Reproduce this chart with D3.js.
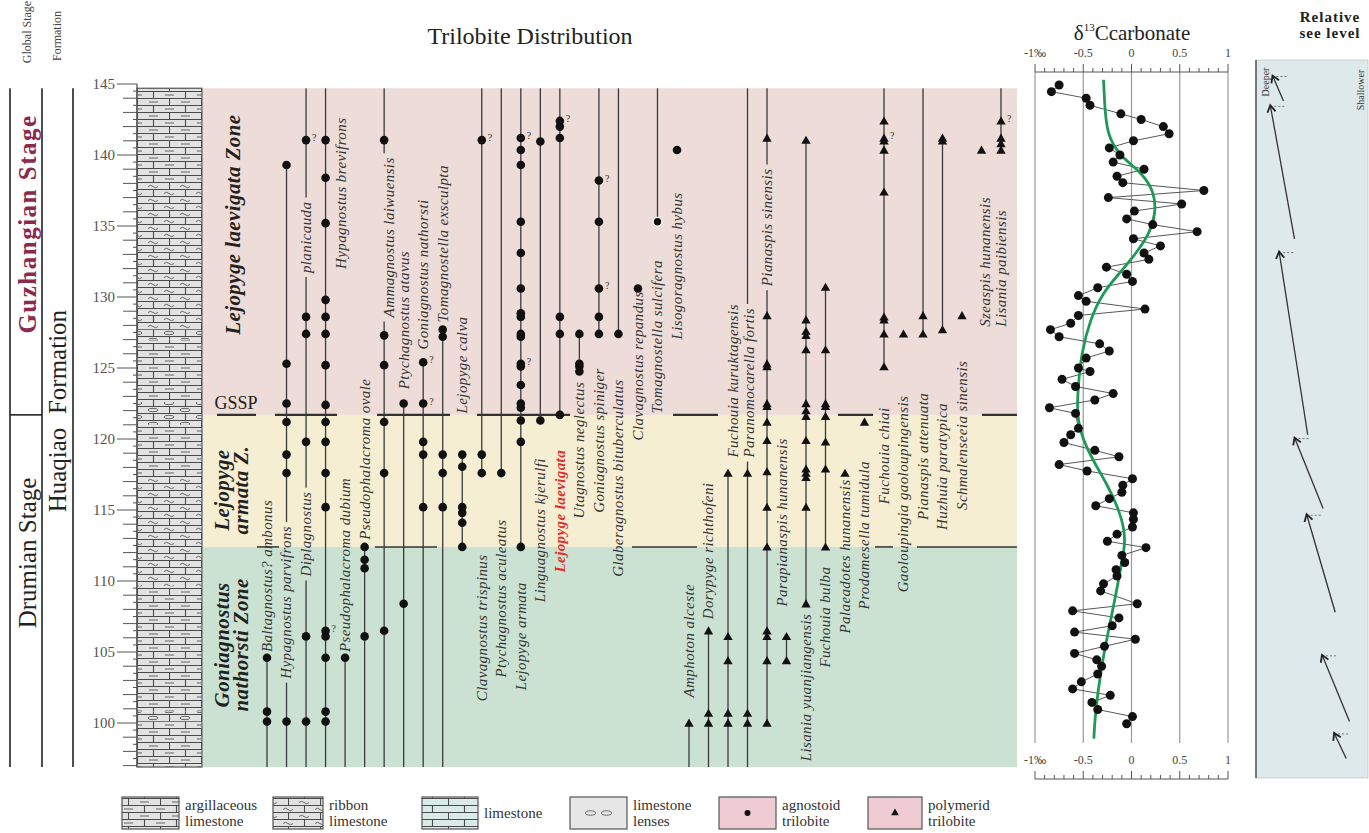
<!DOCTYPE html>
<html>
<head>
<meta charset="utf-8">
<script src="https://cdn.jsdelivr.net/npm/d3@7"></script>
<style>
  body { margin: 0; background: #fff; }
  svg text { font-family: "Liberation Serif", "DejaVu Serif", serif; }
  .taxon { font-size: 15px; font-style: italic; fill: #333; letter-spacing: 0.4px; }
</style>
</head>
<body>
<div id="chart"></div>
<script>
// ---- data ----
var depthTicks = [100, 105, 110, 115, 120, 125, 130, 135, 140, 145];
var secTop = 144.7, secBase = 96.9, gssp = 121.7, armataBase = 112.4;

var zones = [
  { lines: ["Lejopyge laevigata Zone"], top: secTop, base: gssp, at: 135.1, color: "#eddcd7" },
  { lines: ["Lejopyge", "armata Z."], top: gssp, base: armataBase, at: 116.4, color: "#f6eed3" },
  { lines: ["Goniagnostus", "nathorsti Zone"], top: armataBase, base: secBase, at: 105.5, color: "#cbe2d3" }
];

var lithology = [
  { top: 144.7, base: 138.1, type: "argillaceous" },
  { top: 138.1, base: 127.7, type: "ribbon" },
  { top: 127.7, base: 127.0, type: "lenses" },
  { top: 127.0, base: 122.6, type: "argillaceous" },
  { top: 122.6, base: 121.0, type: "lenses" },
  { top: 121.0, base: 117.2, type: "argillaceous" },
  { top: 117.2, base: 109.6, type: "ribbon" },
  { top: 109.6, base: 100.8, type: "argillaceous" },
  { top: 100.8, base: 100.1, type: "lenses" },
  { top: 100.1, base: 96.9, type: "argillaceous" }
];

// agnostoid trilobites (dots)
var agnostoids = [
  { name: "Baltagnostus? ambonus", range: [96.9, 104.6], occ: [100.1, 100.8, 104.6] },
  { name: "Hypagnostus parvifrons", range: [96.9, 139.3], occ: [100.1, 117.6, 118.9, 121.2, 122.5, 125.3, 139.3] },
  { name: "Diplagnostus planicauda", range: [96.9, 144.7], occ: [100.1, 106.1, 119.8, 127.4, 128.6, 141.05], q: [141.05] },
  { name: "Hypagnostus brevifrons", range: [96.9, 144.7], occ: [100.1, 100.8, 104.6, 106.1, 106.5, 115.2, 117.6, 119.8, 121.2, 122.4, 125.2, 127.4, 128.6, 129.8, 135.2, 138.4, 141.05], q: [106.5] },
  { name: "Pseudophalacroma dubium", range: [96.9, 104.6], occ: [104.6] },
  { name: "Pseudophalacroma ovale", range: [96.9, 112.4], occ: [106.1, 110.9, 111.5, 112.4] },
  { name: "Ammagnostus laiwuensis", range: [96.9, 144.7], occ: [106.5, 117.6, 121.2, 125.2, 127.3, 141.05] },
  { name: "Ptychagnostus atavus", range: [96.9, 122.5], occ: [108.4, 122.5] },
  { name: "Goniagnostus nathorsti", range: [96.9, 125.4], occ: [115.2, 118.9, 119.8, 122.5, 125.4], q: [122.5, 125.4] },
  { name: "Tomagnostella exsculpta", range: [96.9, 127.7], occ: [115.2, 117.6, 118.9, 127.2, 127.7] },
  { name: "Lejopyge calva", range: [112.4, 118.9], occ: [112.4, 114.1, 114.8, 115.2, 118.05, 118.9] },
  { name: "Clavagnostus trispinus", range: [117.6, 144.7], occ: [117.6, 118.9, 141.05], q: [141.05] },
  { name: "Ptychagnostus aculeatus", range: [117.6, 144.7], occ: [117.6] },
  { name: "Lejopyge armata", range: [112.4, 144.7], occ: [112.4, 119.8, 121.3, 122.2, 122.5, 123.8, 125.1, 125.3, 127.2, 127.4, 128.6, 128.85, 130.6, 133.1, 135.3, 139.3, 140.35, 141.2], q: [141.2, 125.3] },
  { name: "Linguagnostus kjerulfi", range: [121.3, 144.7], occ: [121.3, 140.95] },
  { name: "Lejopyge laevigata", range: [121.7, 144.7], occ: [121.7, 127.4, 128.6, 141.2, 142.0, 142.4], q: [142.4], red: true },
  { name: "Utagnostus neglectus", range: [124.75, 127.4], occ: [124.75, 125.1, 125.3, 127.4] },
  { name: "Goniagnostus spiniger", range: [127.4, 144.7], occ: [127.4, 128.6, 130.6, 135.3, 138.2], q: [130.6, 138.2] },
  { name: "Glaberagnostus bituberculatus", range: [127.4, 144.7], occ: [127.4] },
  { name: "Clavagnostus repandus", range: null, occ: [130.6] },
  { name: "Tomagnostella sulcifera", range: [135.3, 144.7], occ: [135.3], hollow: true },
  { name: "Lisogoragnostus hybus", range: null, occ: [140.35] }
];

// polymerid trilobites (triangles)
var polymerids = [
  { name: "Amphoton alceste", range: [96.9, 100.0], occ: [100.0] },
  { name: "Dorypyge richthofeni", range: [96.9, 106.5], occ: [100.0, 100.7, 106.5] },
  { name: "Fuchouia kuruktagensis", range: [96.9, 117.6], occ: [100.0, 100.7, 104.4, 106.1, 117.6] },
  { name: "Paranomocarella fortis", range: [96.9, 144.7], occ: [100.0, 100.7, 117.6] },
  { name: "Pianaspis sinensis", range: [100.0, 144.7], occ: [100.0, 104.4, 106.1, 106.5, 112.4, 115.2, 117.7, 119.9, 121.2, 122.3, 122.5, 125.1, 125.3, 128.7, 141.2] },
  { name: "Parapianaspis hunanensis", range: [104.4, 106.1], occ: [104.4, 106.1] },
  { name: "Lisania yuanjiangensis", range: [108.4, 141.05], occ: [108.4, 115.2, 117.3, 117.6, 117.9, 119.9, 121.6, 122.0, 122.5, 126.3, 127.3, 127.6, 128.4, 141.05] },
  { name: "Fuchouia bulba", range: [112.4, 130.7], occ: [112.4, 117.9, 119.8, 121.6, 122.3, 122.5, 126.3, 130.7] },
  { name: "Palaeadotes hunanensis", range: null, occ: [117.6] },
  { name: "Prodamesella tumidula", range: null, occ: [121.2] },
  { name: "Fuchouia chiai", range: [125.1, 144.7], occ: [125.1, 127.4, 128.4, 128.6, 137.4, 140.35, 141.0, 141.2, 142.4], q: [141.2] },
  { name: "Gaoloupingia gaoloupingensis", range: null, occ: [127.4] },
  { name: "Pianaspis attenuata", range: [127.4, 144.7], occ: [127.4, 128.7] },
  { name: "Huzhuia paratypica", range: [127.7, 141.2], occ: [127.7, 141.0, 141.2] },
  { name: "Schmalenseeia sinensis", range: null, occ: [128.7] },
  { name: "Szeaspis hunanensis", range: null, occ: [140.35] },
  { name: "Lisania paibiensis", range: [140.35, 144.7], occ: [140.35, 140.8, 141.2, 142.4], q: [142.4] }
];

// where each taxon name is written: centred on "at", or starting at "from" (depth), sideways shift dx
var labelLayout = {
  "Baltagnostus? ambonus": [{ from: 105.0 }],
  "Hypagnostus parvifrons": [{ at: 108.5 }],
  "Diplagnostus planicauda": [{ text: "Diplagnostus", at: 113.3 }, { text: "planicauda", at: 134.2 }],
  "Hypagnostus brevifrons": [{ at: 137.3, dx: 15 }],
  "Pseudophalacroma dubium": [{ from: 105.0 }],
  "Pseudophalacroma ovale": [{ from: 112.9 }],
  "Ammagnostus laiwuensis": [{ at: 134.2, dx: 5 }],
  "Ptychagnostus atavus": [{ from: 123.5 }],
  "Goniagnostus nathorsti": [{ from: 126.3 }],
  "Tomagnostella exsculpta": [{ from: 128.2 }],
  "Lejopyge calva": [{ from: 121.8 }],
  "Clavagnostus trispinus": [{ at: 106.7 }],
  "Ptychagnostus aculeatus": [{ from: 103.2 }],
  "Lejopyge armata": [{ from: 102.3 }],
  "Linguagnostus kjerulfi": [{ from: 108.5 }],
  "Lejopyge laevigata": [{ from: 110.6 }],
  "Utagnostus neglectus": [{ from: 114.4 }],
  "Goniagnostus spiniger": [{ from: 114.8 }],
  "Glaberagnostus bituberculatus": [{ from: 110.3 }],
  "Clavagnostus repandus": [{ from: 119.9 }],
  "Tomagnostella sulcifera": [{ from: 121.8 }],
  "Lisogoragnostus hybus": [{ from: 127.0 }],
  "Amphoton alceste": [{ from: 101.8 }],
  "Dorypyge richthofeni": [{ from: 107.3 }],
  "Fuchouia kuruktagensis": [{ from: 118.7, dx: 5 }],
  "Paranomocarella fortis": [{ from: 118.7, dx: 2 }],
  "Pianaspis sinensis": [{ at: 134.9 }],
  "Parapianaspis hunanensis": [{ from: 108.2, dx: -4 }],
  "Lisania yuanjiangensis": [{ from: 97.3 }],
  "Fuchouia bulba": [{ from: 103.9 }],
  "Palaeadotes hunanensis": [{ from: 106.3 }],
  "Prodamesella tumidula": [{ from: 108.0 }],
  "Fuchouia chiai": [{ from: 115.4 }],
  "Gaoloupingia gaoloupingensis": [{ from: 109.2 }],
  "Pianaspis attenuata": [{ from: 114.3 }],
  "Huzhuia paratypica": [{ from: 113.6 }],
  "Schmalenseeia sinensis": [{ from: 115.0 }],
  "Szeaspis hunanensis": [{ from: 127.9, dx: 4 }],
  "Lisania paibiensis": [{ from: 127.9 }]
};

// carbon isotope samples
var c13Depth = [144.93, 144.46, 144.0, 143.5, 142.9, 142.5, 142.0, 141.5, 141.0, 140.5, 140.0, 139.5, 139.0, 138.5, 138.05,
  137.5, 137.0, 136.55, 136.05, 135.5, 135.1, 134.6, 134.1, 133.6, 133.1, 132.65, 132.1, 131.6, 131.1, 130.65, 130.1,
  129.7, 129.15, 128.7, 128.15, 127.7, 127.2, 126.7, 126.2, 125.7, 125.0, 124.75, 124.2, 123.7, 123.2, 122.75, 122.2,
  121.8, 120.75, 120.3, 119.75, 119.2, 118.75, 118.2, 117.75, 117.2, 116.75, 116.25, 115.8, 115.3, 114.8, 114.35, 113.8,
  113.3, 112.8, 112.35, 111.8, 111.3, 110.8, 110.35, 109.8, 109.3, 108.4, 107.9, 107.4, 106.85, 106.4, 105.9, 105.4,
  104.9, 104.45, 104.0, 103.45, 102.9, 102.4, 101.95, 101.45, 100.95, 100.45, 99.95];
var c13Value = [-0.75, -0.83, -0.47, -0.43, -0.11, 0.10, 0.33, 0.39, 0.02, -0.23, -0.12, -0.19, 0.13, -0.15, -0.09,
  0.75, -0.24, 0.52, 0.03, -0.05, 0.22, 0.68, 0.02, 0.30, 0.13, 0.18, -0.26, -0.05, 0.01, -0.35, -0.55,
  -0.47, 0.14, -0.55, -0.63, -0.84, -0.75, -0.33, -0.23, -0.47, -0.55, -0.43, -0.72, -0.58, -0.19, -0.38, -0.85,
  -0.58, -0.55, -0.63, -0.70, -0.38, -0.13, -0.75, -0.46, 0.01, -0.09, -0.10, -0.23, -0.37, 0.02, 0.02, 0.01,
  -0.15, -0.25, 0.15, -0.10, -0.07, -0.16, -0.15, -0.29, -0.32, 0.06, -0.61, -0.13, -0.20, -0.59, 0.04, -0.28,
  -0.59, -0.36, -0.31, -0.35, -0.52, -0.61, -0.22, -0.41, -0.35, 0.01, -0.05];

// smoothed trend
var trendDepth = [145.3, 143.9, 141.5, 139.9, 138.7, 137.3, 135.9, 134.5, 133.1, 131.7, 130.3, 128.4, 126.0, 123.9,
  121.6, 119.9, 118.5, 116.9, 115.2, 113.6, 112.4, 111.0, 109.1, 106.8, 104.4, 102.1, 100.2, 98.9];
var trendValue = [-0.29, -0.28, -0.26, -0.12, 0.12, 0.24, 0.25, 0.19, 0.05, -0.12, -0.30, -0.43, -0.52, -0.55,
  -0.57, -0.50, -0.40, -0.26, -0.14, -0.07, -0.07, -0.11, -0.16, -0.23, -0.30, -0.35, -0.38, -0.39];
var c13Ticks = [-1, -0.5, 0, 0.5, 1];
var c13TickLabels = ["-1‰", "-0.5", "0", "0.5", "1"];

// relative sea level arrows (level: 0 = deeper, 1 = shallower)
var seaLevel = [
  { d0: 97.5, l0: 0.82, d1: 99.3, l1: 0.71 },
  { d0: 100.1, l0: 0.85, d1: 104.8, l1: 0.60 },
  { d0: 107.8, l0: 0.72, d1: 114.7, l1: 0.46 },
  { d0: 115.1, l0: 0.61, d1: 120.1, l1: 0.35 },
  { d0: 120.3, l0: 0.47, d1: 133.2, l1: 0.21 },
  { d0: 134.1, l0: 0.35, d1: 143.5, l1: 0.13 },
  { d0: 143.8, l0: 0.25, d1: 145.6, l1: 0.15 }
];

var legendItems = [
  { kind: "argillaceous", label: ["argillaceous", "limestone"] },
  { kind: "ribbon", label: ["ribbon", "limestone"] },
  { kind: "limestone", label: ["limestone"] },
  { kind: "lenses", label: ["limestone", "lenses"] },
  { kind: "agnostoid", label: ["agnostoid", "trilobite"] },
  { kind: "polymerid", label: ["polymerid", "trilobite"] }
];

// ---- drawing ----
var W = 1369, H = 833;
var svg = d3.select("#chart").append("svg").attr("width", W).attr("height", H);
var defs = svg.append("defs");

var y = d3.scaleLinear().domain([145, 100]).range([84, 723]);
var colX0 = 137, colX1 = 202, bgX0 = 203, bgX1 = 1017;

// lithology patterns
function brickPattern(id, fill, mark, ox) {
  var p = defs.append("pattern").attr("id", id).attr("patternUnits", "userSpaceOnUse")
    .attr("x", ox).attr("y", 0).attr("width", 32).attr("height", 14);
  p.append("rect").attr("width", 32).attr("height", 14).attr("fill", fill);
  p.append("path").attr("d", "M0,0.5H32M0,7.5H32M0.5,0V7.5M16.5,7.5V14")
    .attr("stroke", "#4a4a4a").attr("stroke-width", 1.1).attr("fill", "none");
  var m = p.append("g").attr("stroke", "#666").attr("stroke-width", 1).attr("fill", "none");
  if (mark === "dash") {
    m.append("path").attr("d", "M12,4H21M0,11H5M28,11H32");
  } else if (mark === "tilde") {
    m.append("path").attr("d", "M11,4.5q2.5,-2.5 5,0t5,0M-5,11.5q2.5,-2.5 5,0t5,0M27,11.5q2.5,-2.5 5,0t5,0");
  } else if (mark === "lens") {
    m.append("ellipse").attr("cx", 16).attr("cy", 4).attr("rx", 5).attr("ry", 1.7);
    m.append("ellipse").attr("cx", 0).attr("cy", 11).attr("rx", 5).attr("ry", 1.7);
    m.append("ellipse").attr("cx", 32).attr("cy", 11).attr("rx", 5).attr("ry", 1.7);
  }
}
brickPattern("argillaceous", "#e2e2e2", "dash", colX0);
brickPattern("ribbon", "#e2e2e2", "tilde", colX0);
brickPattern("lenses", "#e2e2e2", "lens", colX0);
brickPattern("limestone", "#d9ebe6", "none", 0);
brickPattern("argillaceousL", "#e2e2e2", "dash", 0);
brickPattern("ribbonL", "#e2e2e2", "tilde", 0);

// zone backgrounds
svg.append("g").selectAll("rect").data(zones).enter().append("rect")
  .attr("x", bgX0).attr("width", bgX1 - bgX0)
  .attr("y", function (d) { return y(d.top); })
  .attr("height", function (d) { return y(d.base) - y(d.top); })
  .attr("fill", function (d) { return d.color; });

// lithology column
svg.append("g").selectAll("rect").data(lithology).enter().append("rect")
  .attr("x", colX0).attr("width", colX1 - colX0)
  .attr("y", function (d) { return y(d.top); })
  .attr("height", function (d) { return y(d.base) - y(d.top); })
  .attr("fill", function (d) { return "url(#" + d.type + ")"; });
svg.append("rect").attr("x", colX0).attr("y", y(secTop)).attr("width", colX1 - colX0)
  .attr("height", y(secBase) - y(secTop)).attr("fill", "none").attr("stroke", "#555").attr("stroke-width", 1.2);

// depth axis
var axisG = svg.append("g").attr("stroke", "#555");
axisG.append("line").attr("x1", colX0).attr("x2", colX0).attr("y1", y(145)).attr("y2", y(secBase)).attr("stroke-width", 1.3);
d3.range(97, 145.01, 0.5).forEach(function (v) {
  var major = Math.abs(v % 5) < 1e-6, whole = Math.abs(v % 1) < 1e-6;
  var len = major ? 20 : (whole ? 14 : 4);
  axisG.append("line").attr("x1", colX0 - len).attr("x2", colX0).attr("y1", y(v)).attr("y2", y(v)).attr("stroke-width", 1);
});
svg.append("g").selectAll("text").data(depthTicks).enter().append("text")
  .attr("x", 115).attr("y", function (d) { return y(d); }).attr("dy", "0.35em")
  .attr("text-anchor", "end").attr("font-size", 15).attr("fill", "#555").text(function (d) { return d; });

// stage / formation columns
var sg = svg.append("g").attr("stroke", "#222").attr("stroke-width", 1.6);
[10, 42, 73].forEach(function (x) {
  sg.append("line").attr("x1", x).attr("x2", x).attr("y1", y(secTop)).attr("y2", y(secBase));
});
sg.append("line").attr("x1", 10).attr("x2", 42).attr("y1", y(gssp)).attr("y2", y(gssp));

function vtext(x, yy, txt, size, opts) {
  var t = svg.append("text").attr("transform", "translate(" + x + "," + yy + ") rotate(-90)")
    .attr("text-anchor", "middle").attr("dy", "0.35em").attr("font-size", size).text(txt);
  opts = opts || {};
  Object.keys(opts).forEach(function (k) { t.attr(k, opts[k]); });
  return t;
}
vtext(27, 32, "Global Stage", 12, { fill: "#444" });
vtext(57, 36, "Formation", 12, { fill: "#444" });
vtext(27, 224, "Guzhangian  Stage", 25, { fill: "#8c2a4b", "font-weight": "bold", "letter-spacing": 1.5 });
vtext(27, 553, "Drumian Stage", 25, { fill: "#222" });
vtext(57, 362, "Formation", 25, { fill: "#222" });
vtext(57, 470, "Huaqiao", 25, { fill: "#222" });

// title
svg.append("text").attr("x", 530).attr("y", 44).attr("text-anchor", "middle")
  .attr("font-size", 24).attr("fill", "#222").text("Trilobite Distribution");

// zone names
zones.forEach(function (z) {
  var n = z.lines.length;
  z.lines.forEach(function (ln, i) {
    var x = n === 1 ? 233 : 222 + i * 19;
    vtext(x, y(z.at), ln, 21, { "font-weight": "bold", "font-style": "italic", fill: "#222", "letter-spacing": 0.4 });
  });
});

// zone boundary marks
var gsspMarks = [[275, 337], [377, 450], [477, 570], [673, 718], [838, 873], [982, 1017]];
var armataMarks = [[257, 279], [375, 437], [632, 697], [875, 893], [917, 1017]];
var bm = svg.append("g").attr("stroke", "#333");
gsspMarks.forEach(function (m) {
  bm.append("line").attr("x1", m[0]).attr("x2", m[1]).attr("y1", y(gssp)).attr("y2", y(gssp)).attr("stroke-width", 2.4);
});
armataMarks.forEach(function (m) {
  bm.append("line").attr("x1", m[0]).attr("x2", m[1]).attr("y1", y(armataBase)).attr("y2", y(armataBase)).attr("stroke-width", 1.5);
});
svg.append("text").attr("x", 236).attr("y", y(gssp) - 6).attr("text-anchor", "middle")
  .attr("font-size", 18).attr("fill", "#222").text("GSSP");
bm.append("line").attr("x1", 217).attr("x2", 256).attr("y1", y(gssp)).attr("y2", y(gssp)).attr("stroke-width", 2.4);

// taxa
var xA = d3.scalePoint().domain(agnostoids.map(function (d) { return d.name; })).range([267, 677]);
var xP = d3.scalePoint().domain(polymerids.map(function (d) { return d.name; })).range([689, 1001]);
var tri = d3.symbol().type(d3.symbolTriangle).size(38);

function drawTaxa(list, xs, kind) {
  var g = svg.append("g");
  var lineG = g.append("g"), markG = g.append("g"), labG = g.append("g");
  list.forEach(function (t) {
    var x = xs(t.name);
    var gaps = [];
    labelLayout[t.name].forEach(function (L) {
      var dx = L.dx || 0, start = L.from !== undefined;
      var cy = y(start ? L.from : L.at);
      var txt = labG.append("text").attr("class", "taxon")
        .attr("transform", "translate(" + (x + dx) + "," + cy + ") rotate(-90)")
        .attr("text-anchor", start ? "start" : "middle").attr("dy", "0.33em")
        .text(L.text || t.name);
      if (t.red) txt.style("fill", "#e0302a").style("font-weight", "bold");
      var len = txt.node().getComputedTextLength();
      if (Math.abs(dx) < 8) {
        gaps.push(start ? [cy - len - 4, cy + 4] : [cy - len / 2 - 4, cy + len / 2 + 4]);
      }
    });
    if (t.range) {
      var segs = [[y(t.range[1]), y(t.range[0])]];
      gaps.forEach(function (gp) {
        var next = [];
        segs.forEach(function (s) {
          if (gp[1] <= s[0] || gp[0] >= s[1]) { next.push(s); return; }
          if (gp[0] > s[0]) next.push([s[0], gp[0]]);
          if (gp[1] < s[1]) next.push([gp[1], s[1]]);
        });
        segs = next;
      });
      segs.forEach(function (s) {
        lineG.append("line").attr("x1", x).attr("x2", x).attr("y1", s[0]).attr("y2", s[1])
          .attr("stroke", "#3a3a3a").attr("stroke-width", 1.3);
      });
    }
    t.occ.forEach(function (d) {
      if (kind === "agnostoid") {
        markG.append("circle").attr("cx", x).attr("cy", y(d)).attr("r", 4.3)
          .attr("fill", "#111").attr("stroke", t.hollow ? "#fff" : "none").attr("stroke-width", 1.2);
      } else {
        markG.append("path").attr("d", tri).attr("transform", "translate(" + x + "," + (y(d) + 1) + ")").attr("fill", "#111");
      }
    });
    (t.q || []).forEach(function (d) {
      markG.append("text").attr("x", x + 6).attr("y", y(d) + 1).attr("font-size", 10).attr("fill", "#333").text("?");
    });
  });
}
drawTaxa(agnostoids, xA, "agnostoid");
drawTaxa(polymerids, xP, "polymerid");

// ---- carbon isotope panel ----
var xc = d3.scaleLinear().domain([-1, 1]).range([1035, 1228]);
var cTop = 72, cBot = 779, gridBot = 743;
var cg = svg.append("g");
c13Ticks.forEach(function (v) {
  cg.append("line").attr("x1", xc(v)).attr("x2", xc(v)).attr("y1", cTop).attr("y2", gridBot)
    .attr("stroke", "#999").attr("stroke-width", 1.2);
});
[cTop, cBot].forEach(function (ay) {
  cg.append("line").attr("x1", xc(-1)).attr("x2", xc(1)).attr("y1", ay).attr("y2", ay).attr("stroke", "#555");
  d3.range(-1, 1.001, 0.1).forEach(function (v) {
    var major = Math.abs(Math.round(v * 10) % 5) === 0;
    cg.append("line").attr("x1", xc(v)).attr("x2", xc(v)).attr("y1", ay).attr("y2", ay - (major ? 8 : 4))
      .attr("stroke", "#555");
  });
  cg.selectAll(null).data(c13Ticks).enter().append("text")
    .attr("x", function (d) { return xc(d); }).attr("y", ay - 15)
    .attr("text-anchor", "middle").attr("font-size", 12).attr("fill", "#444")
    .text(function (d, i) { return c13TickLabels[i]; });
});
var ct = svg.append("text").attr("x", 1132).attr("y", 40).attr("text-anchor", "middle").attr("font-size", 21).attr("fill", "#222");
ct.append("tspan").text("δ");
ct.append("tspan").attr("font-size", 11).attr("dy", -9).text("13");
ct.append("tspan").attr("dy", 9).text("Ccarbonate");

var pts = c13Depth.map(function (d, i) { return [xc(c13Value[i]), y(d)]; });
cg.append("path").attr("d", d3.line()(pts)).attr("fill", "none").attr("stroke", "#444").attr("stroke-width", 0.9);
var trend = trendDepth.map(function (d, i) { return [xc(trendValue[i]), y(d)]; });
cg.append("path").attr("d", d3.line().curve(d3.curveBasis)(trend)).attr("fill", "none")
  .attr("stroke", "#1f9a55").attr("stroke-width", 2.8);
cg.selectAll("circle").data(pts).enter().append("circle")
  .attr("cx", function (d) { return d[0]; }).attr("cy", function (d) { return d[1]; })
  .attr("r", 4.5).attr("fill", "#111");

// ---- relative sea level ----
var xs = d3.scaleLinear().domain([0, 1]).range([1256, 1366]);
var sl = svg.append("g");
sl.append("rect").attr("x", 1256).attr("y", 60).attr("width", 112).attr("height", 718).attr("fill", "#dde9ea")
  .attr("stroke", "#bbb").attr("stroke-width", 0.6);
sl.append("line").attr("x1", 1256).attr("x2", 1256).attr("y1", 60).attr("y2", 778).attr("stroke", "#555").attr("stroke-width", 1.5);
svg.append("text").attr("x", 1330).attr("y", 22).attr("text-anchor", "middle").attr("font-size", 15)
  .attr("font-weight", "bold").attr("letter-spacing", 1).attr("fill", "#222").text("Relative");
svg.append("text").attr("x", 1330).attr("y", 38).attr("text-anchor", "middle").attr("font-size", 15)
  .attr("font-weight", "bold").attr("letter-spacing", 1).attr("fill", "#222").text("see  level");
vtext(1265, 82, "Deeper", 10, { fill: "#333" });
vtext(1360, 90, "Shallower", 10, { fill: "#333" });
seaLevel.forEach(function (s) {
  var x0 = xs(s.l0), y0 = y(s.d0), x1 = xs(s.l1), y1 = y(s.d1);
  sl.append("line").attr("x1", x0).attr("y1", y0).attr("x2", x1).attr("y2", y1).attr("stroke", "#333").attr("stroke-width", 1.3);
  var a = Math.atan2(y1 - y0, x1 - x0), h = 8;
  var p = [[x1 + h * Math.cos(a + 2.6), y1 + h * Math.sin(a + 2.6)], [x1, y1], [x1 + h * Math.cos(a - 2.6), y1 + h * Math.sin(a - 2.6)]];
  sl.append("path").attr("d", d3.line()(p)).attr("fill", "none").attr("stroke", "#222").attr("stroke-width", 1.8);
  sl.append("line").attr("x1", x1 + 4).attr("x2", x1 + 14).attr("y1", y1 + 1).attr("y2", y1 + 1)
    .attr("stroke", "#555").attr("stroke-width", 0.8).attr("stroke-dasharray", "2,2");
});

// ---- legend ----
var legX = [122, 273, 422, 570, 719, 868], legW = [57, 50, 56, 57, 57, 54];
var lg = svg.append("g");
legendItems.forEach(function (it, i) {
  var x = legX[i], w = legW[i], y0 = 797, h = 32;
  var fill = { argillaceous: "url(#argillaceousL)", ribbon: "url(#ribbonL)", limestone: "url(#limestone)",
    lenses: "#e6e6e6", agnostoid: "#efccd4", polymerid: "#efccd4" }[it.kind];
  lg.append("rect").attr("x", x).attr("y", y0).attr("width", w).attr("height", h).attr("fill", fill)
    .attr("stroke", "#555").attr("stroke-width", 1.2);
  var cx = x + w / 2, cy = y0 + h / 2;
  if (it.kind === "lenses") {
    [-8, 8].forEach(function (o) {
      lg.append("ellipse").attr("cx", cx + o).attr("cy", cy).attr("rx", 5).attr("ry", 2.2).attr("fill", "none").attr("stroke", "#666");
    });
  } else if (it.kind === "agnostoid") {
    lg.append("circle").attr("cx", cx).attr("cy", cy).attr("r", 3).attr("fill", "#111");
  } else if (it.kind === "polymerid") {
    lg.append("path").attr("d", d3.symbol().type(d3.symbolTriangle).size(26)).attr("transform", "translate(" + cx + "," + cy + ")").attr("fill", "#111");
  }
  var t = lg.append("text").attr("x", x + w + 6).attr("font-size", 15).attr("fill", "#333");
  if (it.label.length === 1) {
    t.attr("y", cy + 5).text(it.label[0]);
  } else {
    t.append("tspan").attr("x", x + w + 6).attr("y", cy - 3).text(it.label[0]);
    t.append("tspan").attr("x", x + w + 6).attr("y", cy + 13).text(it.label[1]);
  }
});
</script>
</body>
</html>
